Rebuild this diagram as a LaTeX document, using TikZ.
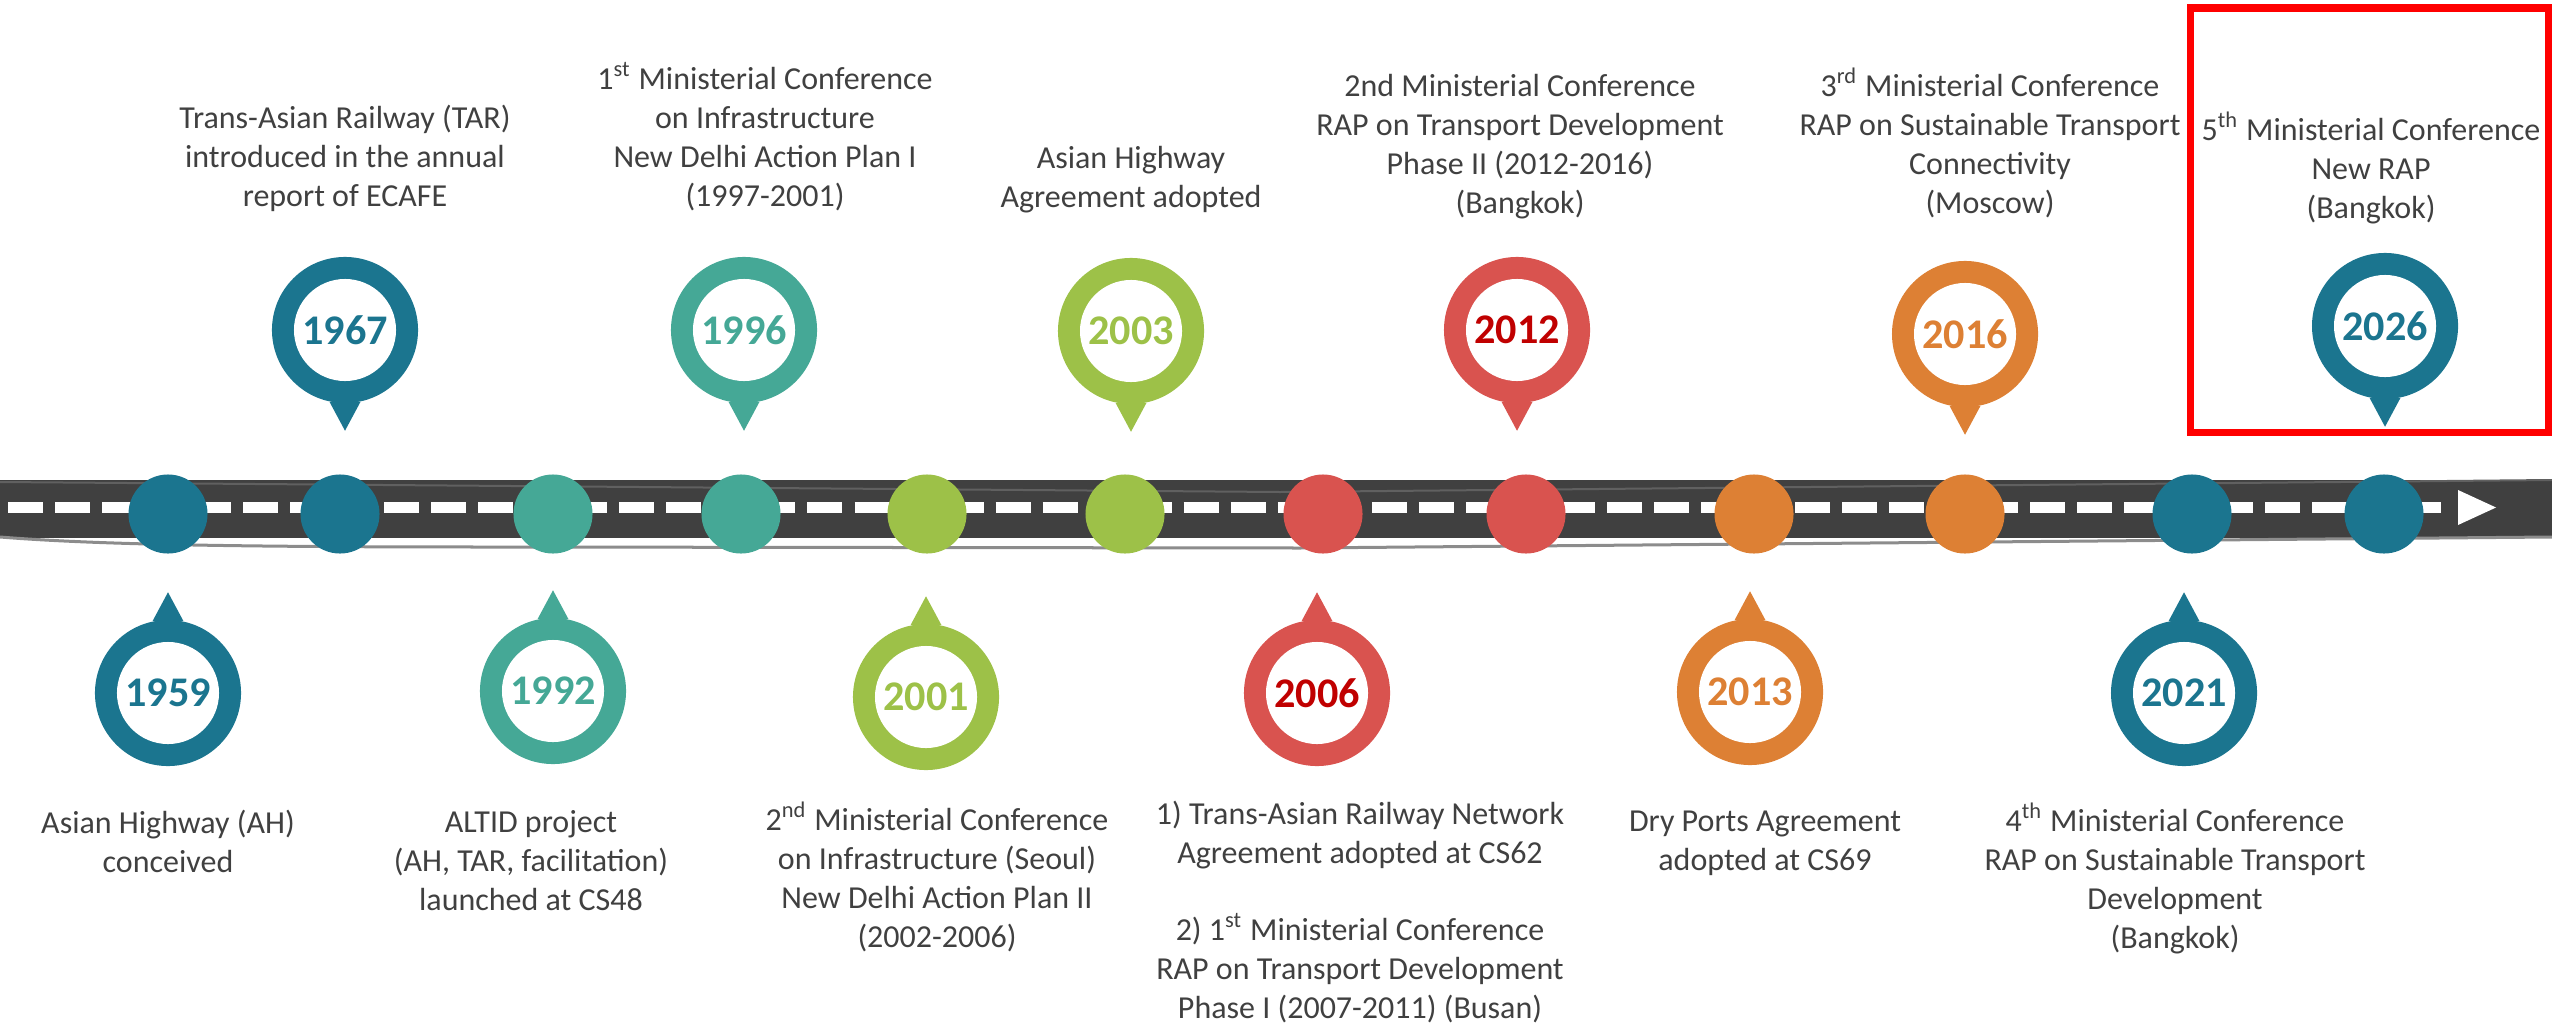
\documentclass[tikz,border=0pt]{standalone}
\usepackage{fontspec}
\setmainfont{Carlito}
\usepackage{tikz}
\usetikzlibrary{positioning,calc}
\definecolor{ahblue}{RGB}{27,117,143}
\definecolor{tealgreen}{RGB}{69,168,150}
\definecolor{limegreen}{RGB}{157,193,72}
\definecolor{coral}{RGB}{217,83,79}
\definecolor{darkred}{RGB}{192,0,0}
\definecolor{amber}{RGB}{221,128,52}
\definecolor{roadgray}{RGB}{64,64,64}
\definecolor{textgray}{RGB}{64,64,64}
\tikzset{
  roaddot/.style={circle,fill=#1,minimum size=0.79cm,inner sep=0pt},
  pinring/.style={circle,fill=#1,minimum size=1.46cm,inner sep=0pt},
  pinhole/.style={circle,fill=white,minimum size=1.02cm,inner sep=0pt,
    font=\fontsize{12}{14}\selectfont\bfseries,text=#1},
  note/.style={align=center,inner sep=0pt,anchor=base,text=textgray,
    font=\fontsize{9.1}{11}\selectfont},
  lane/.style={white,line width=0.11cm,dash pattern=on 0.35cm off 0.12cm},
  roadedge/.style={gray!90,line width=0.03cm},
  roadline/.style={gray!75!black,line width=0.02cm},
  newbox/.style={draw=red,line width=0.07cm}
}

\begin{document}
\begin{tikzpicture}[x=0.01cm,y=-0.01cm]
    \useasboundingbox (0,0) rectangle (2552,1027);
    % road
    \begin{scope}
    \fill[roadgray] (0,480) rectangle (2552,538);
    \draw[roadline] (0,482) -- (1280,492) -- (2552,480);
    \draw[roadedge] (0,537) .. controls (100,545) and (250,547) .. (500,547) -- (1300,548) -- (2552,537);
    \draw[lane] (8,507.5) -- (2447,507.5);
    \fill[white] (2458,490) -- (2496,507.5) -- (2458,525) -- cycle;
    \end{scope}
    \node[roaddot=ahblue] (d1959) at (168,514) {};
    \node[roaddot=ahblue] (d1967) at (340,514) {};
    \node[roaddot=tealgreen] (d1992) at (553,514) {};
    \node[roaddot=tealgreen] (d1996) at (741,514) {};
    \node[roaddot=limegreen] (d2001) at (927,514) {};
    \node[roaddot=limegreen] (d2003) at (1125,514) {};
    \node[roaddot=coral] (d2006) at (1323,514) {};
    \node[roaddot=coral] (d2012) at (1526,514) {};
    \node[roaddot=amber] (d2013) at (1754,514) {};
    \node[roaddot=amber] (d2016) at (1965,514) {};
    \node[roaddot=ahblue] (d2021) at (2192,514) {};
    \node[roaddot=ahblue] (d2026) at (2384,514) {};
    % pins below the road
    \node[pinring=ahblue] (p1959) at (168,693) {};
    \fill[ahblue] (p1959.78) -- ($(p1959.north)+(0,-27)$) -- (p1959.102) -- cycle;
    \node[pinhole=ahblue] (y1959) at (p1959) {1959};
    \node[pinring=tealgreen] (p1992) at (553,691) {};
    \fill[tealgreen] (p1992.78) -- ($(p1992.north)+(0,-27)$) -- (p1992.102) -- cycle;
    \node[pinhole=tealgreen] (y1992) at (p1992) {1992};
    \node[pinring=limegreen] (p2001) at (926,697) {};
    \fill[limegreen] (p2001.78) -- ($(p2001.north)+(0,-27)$) -- (p2001.102) -- cycle;
    \node[pinhole=limegreen] (y2001) at (p2001) {2001};
    \node[pinring=coral] (p2006) at (1317,693) {};
    \fill[coral] (p2006.78) -- ($(p2006.north)+(0,-27)$) -- (p2006.102) -- cycle;
    \node[pinhole=darkred] (y2006) at (p2006) {2006};
    \node[pinring=amber] (p2013) at (1750,692) {};
    \fill[amber] (p2013.78) -- ($(p2013.north)+(0,-27)$) -- (p2013.102) -- cycle;
    \node[pinhole=amber] (y2013) at (p2013) {2013};
    \node[pinring=ahblue] (p2021) at (2184,693) {};
    \fill[ahblue] (p2021.78) -- ($(p2021.north)+(0,-27)$) -- (p2021.102) -- cycle;
    \node[pinhole=ahblue] (y2021) at (p2021) {2021};
    % pins above the road
    \node[pinring=ahblue] (p1967) at (345,330) {};
    \fill[ahblue] (p1967.258) -- ($(p1967.south)+(0,27)$) -- (p1967.282) -- cycle;
    \node[pinhole=ahblue] (y1967) at (p1967) {1967};
    \node[pinring=tealgreen] (p1996) at (744,330) {};
    \fill[tealgreen] (p1996.258) -- ($(p1996.south)+(0,27)$) -- (p1996.282) -- cycle;
    \node[pinhole=tealgreen] (y1996) at (p1996) {1996};
    \node[pinring=limegreen] (p2003) at (1131,331) {};
    \fill[limegreen] (p2003.258) -- ($(p2003.south)+(0,27)$) -- (p2003.282) -- cycle;
    \node[pinhole=limegreen] (y2003) at (p2003) {2003};
    \node[pinring=coral] (p2012) at (1517,330) {};
    \fill[coral] (p2012.258) -- ($(p2012.south)+(0,27)$) -- (p2012.282) -- cycle;
    \node[pinhole=darkred] (y2012) at (p2012) {2012};
    \node[pinring=amber] (p2016) at (1965,334) {};
    \fill[amber] (p2016.258) -- ($(p2016.south)+(0,27)$) -- (p2016.282) -- cycle;
    \node[pinhole=amber] (y2016) at (p2016) {2016};
    \node[pinring=ahblue] (p2026) at (2385,326) {};
    \fill[ahblue] (p2026.258) -- ($(p2026.south)+(0,27)$) -- (p2026.282) -- cycle;
    \node[pinhole=ahblue] (y2026) at (p2026) {2026};
    % texts (placed at the baseline of their last line)
    \node[note] (t1967) at (345,206) {Trans-Asian Railway (TAR)\\introduced in the annual\\report of ECAFE};
    \node[note] (t1996) at (765,206) {1\textsuperscript{st} Ministerial Conference\\on Infrastructure\\New Delhi Action Plan I\\(1997-2001)};
    \node[note] (t2003) at (1131,207) {Asian Highway\\Agreement adopted};
    \node[note] (t2012) at (1520,213) {2nd Ministerial Conference\\RAP on Transport Development\\Phase II (2012-2016)\\(Bangkok)};
    \node[note] (t2016) at (1990,213) {3\textsuperscript{rd} Ministerial Conference\\RAP on Sustainable Transport\\Connectivity\\(Moscow)};
    \node[note] (t2026) at (2371,218) {5\textsuperscript{th} Ministerial Conference\\New RAP\\(Bangkok)};
    \node[note] (t1959) at (168,872) {Asian Highway (AH)\\conceived};
    \node[note] (t1992) at (531,910) {ALTID project\\(AH, TAR, facilitation)\\launched at CS48};
    \node[note] (t2001) at (937,947) {2\textsuperscript{nd} Ministerial Conference\\on Infrastructure (Seoul)\\New Delhi Action Plan II\\(2002-2006)};
    \node[note] (t2006) at (1360,1018) {1) Trans-Asian Railway Network\\Agreement adopted at CS62\\[11pt]2) 1\textsuperscript{st} Ministerial Conference\\RAP on Transport Development\\Phase I (2007-2011) (Busan)};
    \node[note] (t2013) at (1765,870) {Dry Ports Agreement\\adopted at CS69};
    \node[note] (t2021) at (2175,948) {4\textsuperscript{th} Ministerial Conference\\RAP on Sustainable Transport\\Development\\(Bangkok)};
    % highlight of the next conference
    \draw[newbox] (2190,8) rectangle (2548,432);
\end{tikzpicture}
\end{document}
